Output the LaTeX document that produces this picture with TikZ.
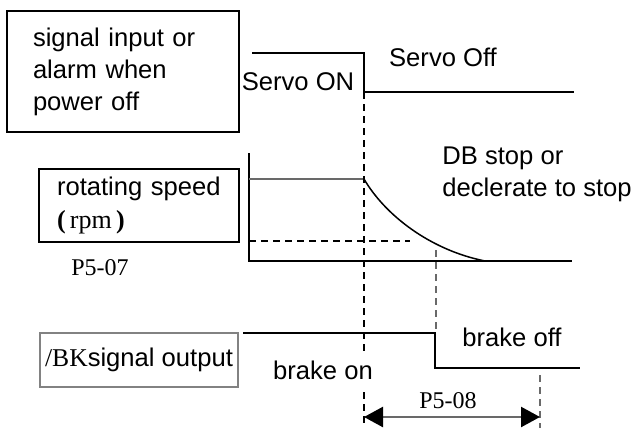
\documentclass[tikz,border=0pt]{standalone}
\usepackage{fontspec}
\setmainfont{Liberation Sans}
\newfontfamily\serifnum{Liberation Serif}
\usepackage{xcolor}
\usepackage{tikz}
\usetikzlibrary{arrows.meta, positioning, calc}
\definecolor{WaveGray}{RGB}{105, 105, 105}
\definecolor{BoxGray}{RGB}{130, 130, 130}

\tikzset{
  sigbox/.style={draw=black, line width=0.7pt, inner ysep=2pt},
  sigtext/.style={font=\fontsize{12.8}{16}\selectfont, inner sep=0pt},
  numtext/.style={font=\serifnum\fontsize{12}{14}\selectfont, inner sep=0pt},
  wave/.style={line width=0.75pt, black},
  evline/.style={line width=0.75pt, dash pattern=on 3.5pt off 2.5pt}
}

\begin{document}
\begin{tikzpicture}[x=0.5pt, y=-0.5pt]
    \useasboundingbox (0,0) rectangle (637,428);

    \node[sigbox, sigtext, minimum width=116pt, minimum height=60.5pt,
          text width=90pt, inner xsep=13pt, align=left] (inbox) at (123,71.5) {
      signal input or\\alarm when\\power off};
    \node[sigbox, sigtext, minimum width=100pt, minimum height=36.5pt,
          text width=88pt, inner xsep=6pt, align=left, font=\fontsize{12.8}{16.5}\selectfont] (spdbox) at (139,205.5) {
      \hspace*{3pt}rotating speed\\\hspace*{3pt}{\serifnum\fontsize{13}{14}\selectfont\textbf{(}\,rpm\,\textbf{)}}};
    \node[sigbox, sigtext, draw=BoxGray, line width=1.2pt, minimum width=99pt,
          minimum height=27pt] (bkbox) at (139,360) {{\serifnum /BK}signal output};
    \node[numtext] (p507) at (100,268) {P5-07};

    % servo signal
    \coordinate (toff) at (364,92);
    \draw[wave] (252,53) -- (364,53) -- (toff) -- (574,92);
    \node[sigtext] (son) at (298,82) {Servo ON};
    \node[sigtext] (soff) at (443,57) {Servo Off};

    % speed
    \coordinate (vtop) at (364,179);
    \coordinate (vzero) at (485,261);
    \draw[wave] (249,153) -- (249,261) -- (572,261);
    \draw[line width=0.75pt, WaveGray] (249,179) -- (vtop);
    \draw[wave] (vtop) .. controls (385,215) and (430,250) .. (vzero);
    \draw[evline] (249,241) -- (410,241);
    \node[sigtext, anchor=west, align=left] (dbstop) at (442,174) {DB stop or\\declerate to stop};

    % event lines
    \coordinate (tend) at (540,375);
    \draw[evline] (toff) -- (364,428);
    \draw[evline, WaveGray] (436,250) -- (436,333);
    \draw[evline, WaveGray] (tend) -- (540,428);

    % brake output
    \coordinate (tbrk) at (435,333);
    \draw[wave] (243,333) -- (tbrk) -- (435,368) -- (580,368);
    \node[sigtext] (bkoff) at (512,337) {brake off};
    \node[sigtext, fill=white, inner xsep=1pt, inner ysep=4pt] (bkon) at (323,370) {brake on};

    \coordinate (arrl) at (364,417);
    \coordinate (arrr) at (540,417);
    \draw[line width=1.2pt, WaveGray, {Triangle[length=9.5pt, width=10pt, color=black]}-{Triangle[length=9.5pt, width=10pt, color=black]}]
      (arrl) -- (arrr);
    \node[numtext] (p508) at (448,401) {P5-08};
  \end{tikzpicture}
\end{document}
